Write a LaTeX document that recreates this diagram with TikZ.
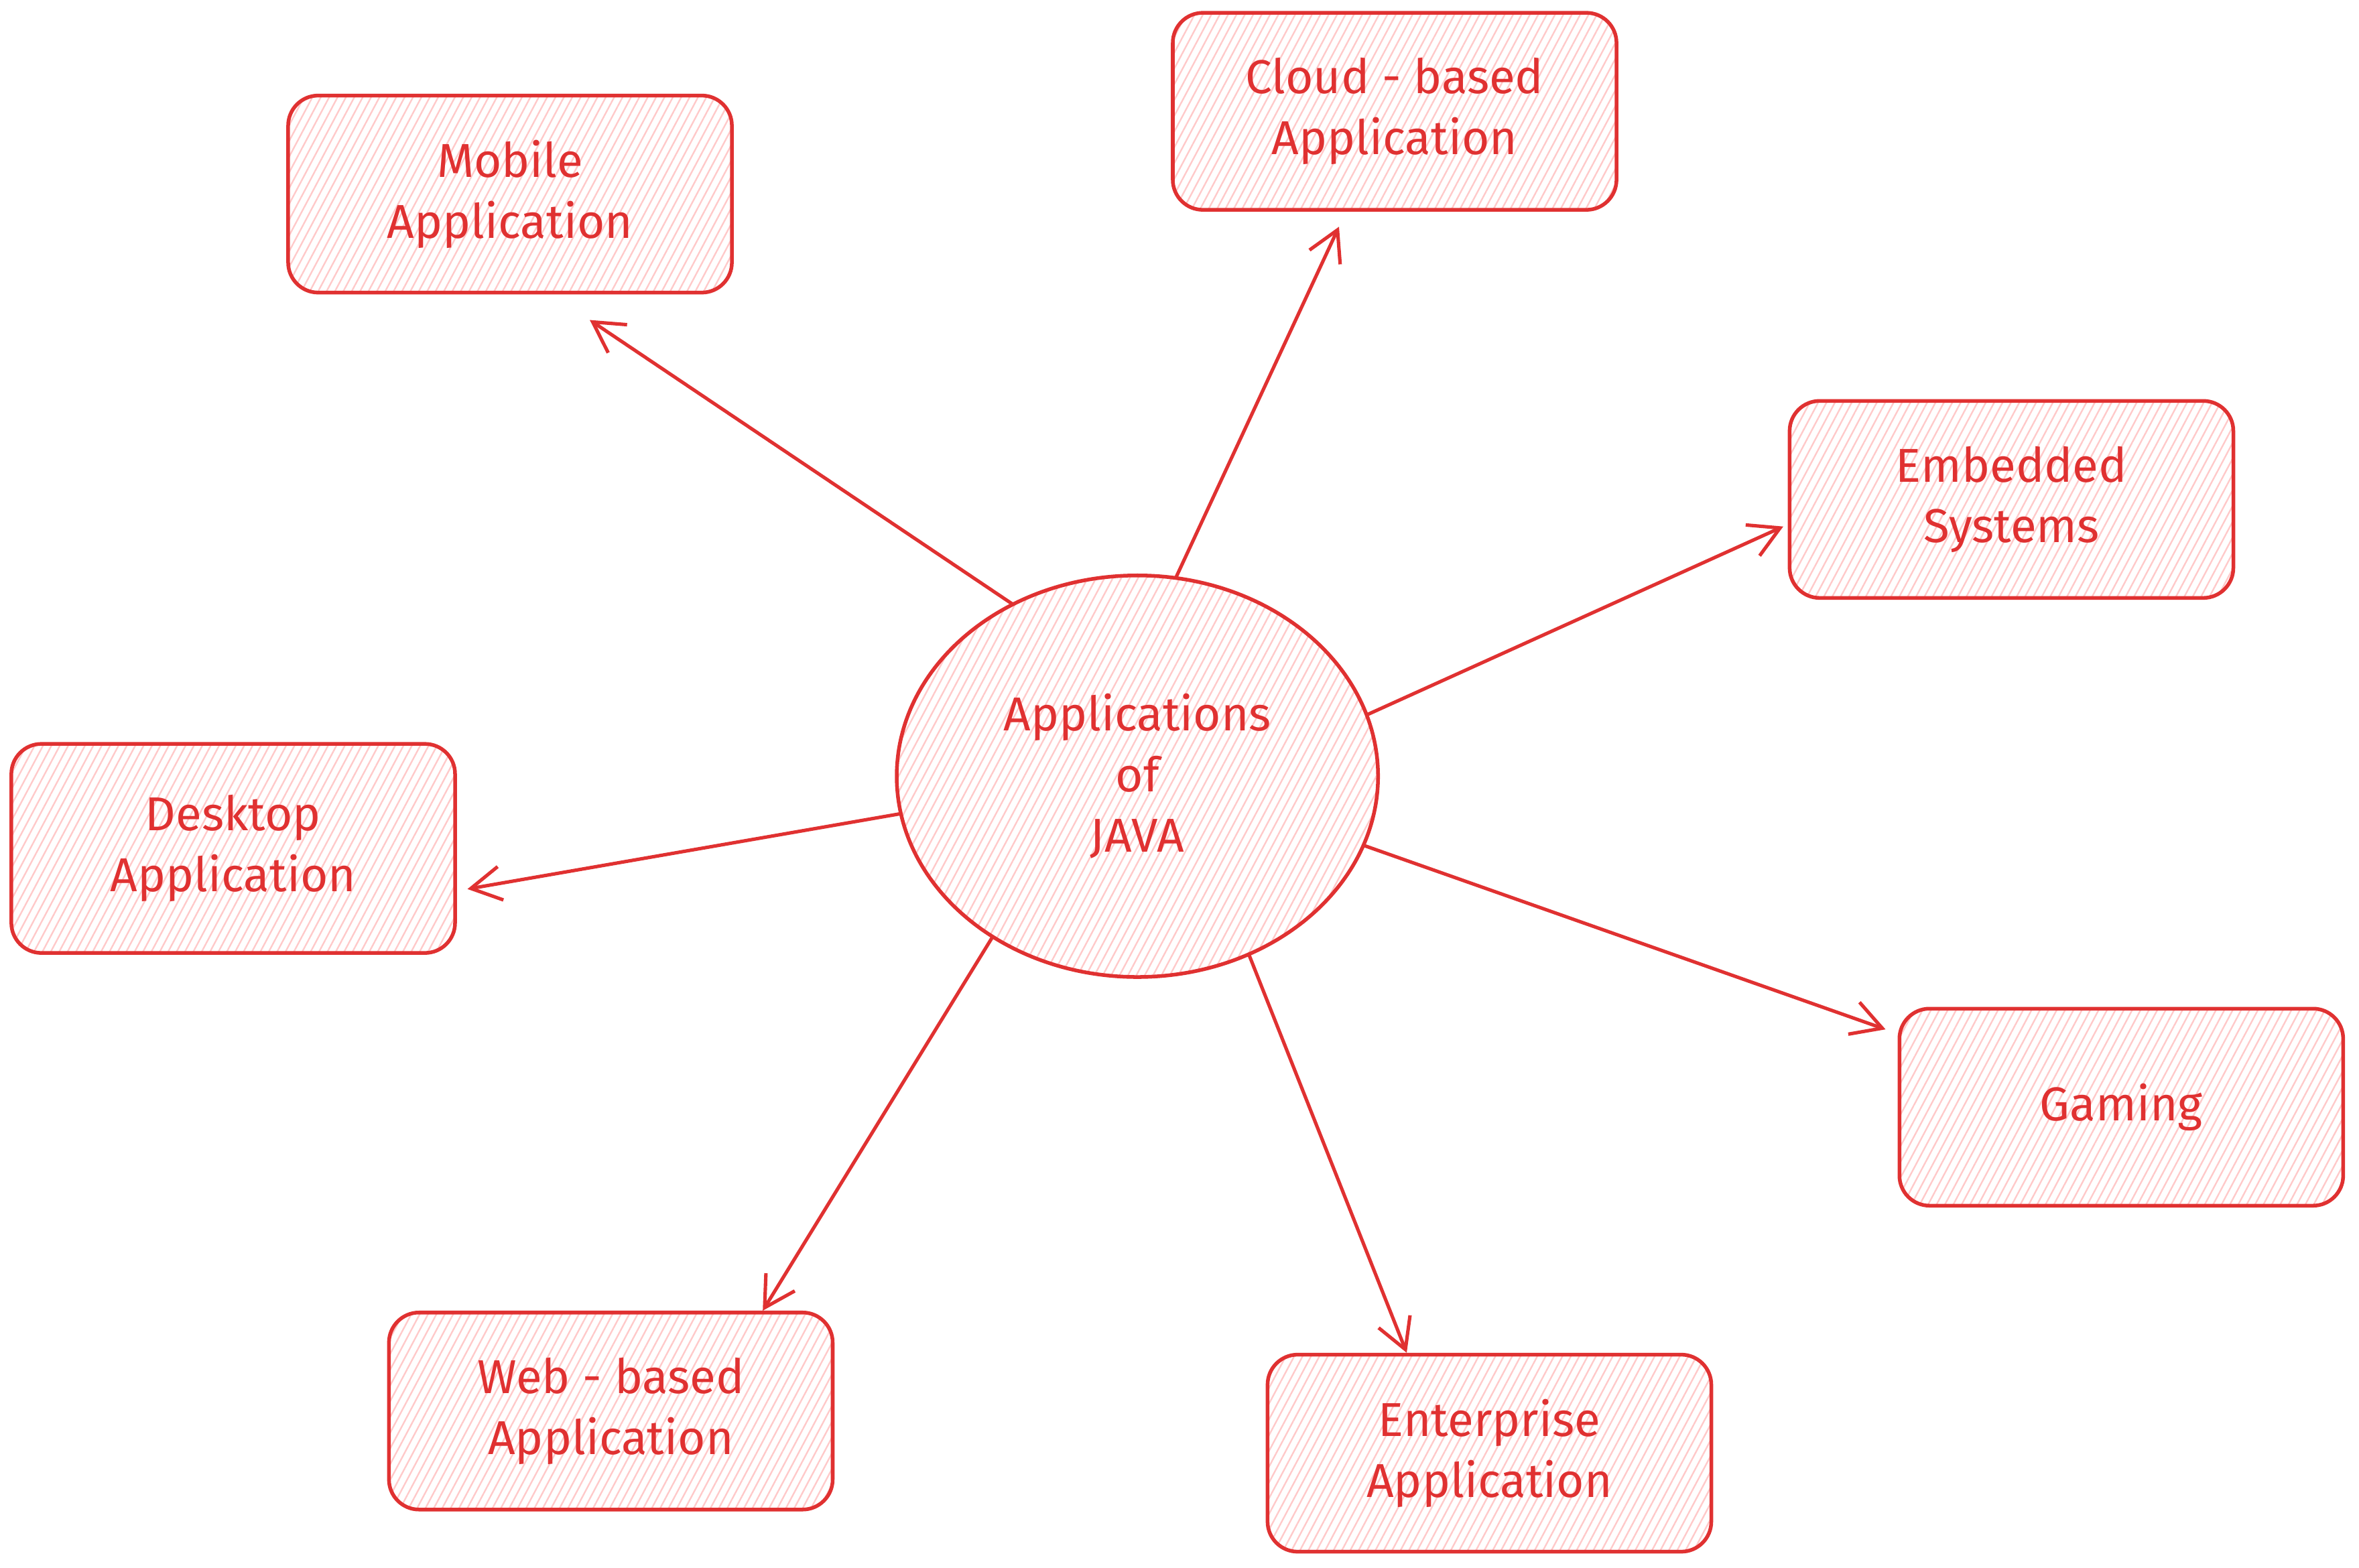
\documentclass[tikz,border=0pt]{standalone}
\usepackage{fontspec}
\setmainfont{Fira Sans}
\usetikzlibrary{shapes.geometric}
\usetikzlibrary{arrows.meta}
\usetikzlibrary{patterns.meta}

\definecolor{jred}{HTML}{E03131}
\definecolor{jpink}{HTML}{FFC9C9}

\begin{document}
\begin{tikzpicture}[x=0.02cm, y=-0.02cm,
		every node/.style={font=\fontsize{18}{23}\selectfont, text=jred, align=center},
		hatch/.style={draw=jred, line width=1.4pt, pattern={Lines[angle=62, distance=2.8pt, line width=0.6pt]}, pattern color=jpink},
		appbox/.style={hatch, rounded corners=0.4cm, minimum width=5.9cm, minimum height=2.62cm},
		link/.style={draw=jred, line width=1.3pt, -{Straight Barb[length=4mm, width=4.5mm, line width=1.3pt]}}]
		\useasboundingbox (0,0) rectangle (1568,1042);
		\node[hatch, ellipse, minimum width=6.4cm, minimum height=5.34cm, inner sep=0pt] (J) at (756,516) {Applications\\of\\JAVA};
		\node[appbox] (M) at (339,129) {Mobile\\Application};
		\node[appbox] (C) at (927,74) {Cloud - based\\Application};
		\node[appbox] (ES) at (1337,332) {Embedded\\Systems};
		\node[appbox, minimum height=2.78cm] (D) at (155,564) {Desktop\\Application};
		\node[appbox] (G) at (1410,736) {Gaming};
		\node[appbox] (W) at (406,938) {Web - based\\Application};
		\node[appbox] (EA) at (990,966) {Enterprise\\Application};
		\draw[link] (J.126) -- ([shift={(53,17)}]M.south);
		\draw[link] (J.79) -- ([shift={(-37,10)}]C.south);
		\draw[link] (J.15.6) -- ([shift={(-3,18)}]ES.west);
		\draw[link] (J.189) -- ([shift={(7,27)}]D.east);
		\draw[link] (J.343.6) -- ([shift={(-8,15)}]G.north west);
		\draw[link] (J.228) -- ([shift={(101,0)}]W.north);
		\draw[link] (J.302) -- ([shift={(-55,0)}]EA.north);
	\end{tikzpicture}
\end{document}
